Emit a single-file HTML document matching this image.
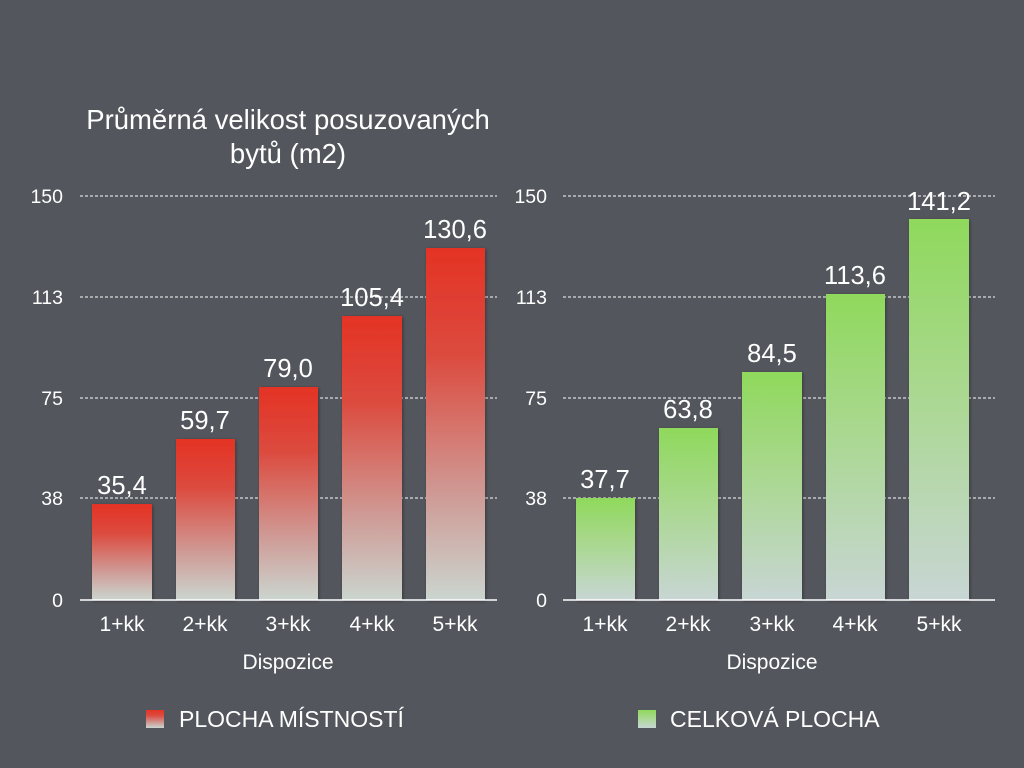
<!DOCTYPE html>
<html><head><meta charset="utf-8"><style>
html,body{margin:0;padding:0;background:#53565c;}
svg{display:block;font-family:"Liberation Sans",sans-serif;}
</style></head><body>
<svg width="1024" height="768" viewBox="0 0 1024 768">
<defs>
<linearGradient id="r" x1="0" y1="0" x2="0" y2="1">
<stop offset="0" stop-color="#e43325"/><stop offset="0.3" stop-color="#dc4a3e"/><stop offset="0.7" stop-color="#cf9a95"/><stop offset="1" stop-color="#cbd5cf"/></linearGradient>
<linearGradient id="g" x1="0" y1="0" x2="0" y2="1">
<stop offset="0" stop-color="#8fd95c"/><stop offset="0.4" stop-color="#a7d88a"/><stop offset="1" stop-color="#c8d6d4"/></linearGradient>
<filter id="s" x="-10%" y="-10%" width="130%" height="130%"><feDropShadow dx="1" dy="1" stdDeviation="1.5" flood-color="#000" flood-opacity="0.35"/></filter>
</defs>
<rect width="1024" height="768" fill="#53565c"/>
<g fill="#fff" font-size="27.5" text-anchor="middle">
<text x="288" y="129">Průměrná velikost posuzovaných</text>
<text x="288" y="163">bytů (m2)</text>
</g>
<g stroke="#fff" stroke-dasharray="3,2" stroke-width="1">
<line x1="80" y1="196" x2="497" y2="196"/><line x1="80" y1="297" x2="497" y2="297"/><line x1="80" y1="398" x2="497" y2="398"/><line x1="80" y1="498" x2="497" y2="498"/>
<line x1="563" y1="196" x2="995" y2="196"/><line x1="563" y1="297" x2="995" y2="297"/><line x1="563" y1="398" x2="995" y2="398"/><line x1="563" y1="498" x2="995" y2="498"/>
</g>
<g fill="#fff" font-size="19.5" text-anchor="end">
<text x="63" y="203">150</text><text x="63" y="304">113</text><text x="63" y="405">75</text><text x="63" y="505">38</text><text x="63" y="607">0</text>
<text x="547" y="203">150</text><text x="547" y="304">113</text><text x="547" y="405">75</text><text x="547" y="505">38</text><text x="547" y="607">0</text>
</g>
<g filter="url(#s)">
<rect x="92" y="504" width="60" height="96" fill="url(#r)"/>
<rect x="176" y="439" width="59" height="161" fill="url(#r)"/>
<rect x="259" y="387" width="59" height="213" fill="url(#r)"/>
<rect x="342" y="316" width="60" height="284" fill="url(#r)"/>
<rect x="426" y="248" width="59" height="352" fill="url(#r)"/>
<rect x="576" y="498" width="59" height="102" fill="url(#g)"/>
<rect x="659" y="428" width="59" height="172" fill="url(#g)"/>
<rect x="742" y="372" width="60" height="228" fill="url(#g)"/>
<rect x="826" y="294" width="59" height="306" fill="url(#g)"/>
<rect x="909" y="219" width="60" height="381" fill="url(#g)"/>
</g>
<line x1="80" y1="600" x2="497" y2="600" stroke="#fff" stroke-width="1.5"/>
<line x1="563" y1="600" x2="995" y2="600" stroke="#fff" stroke-width="1.5"/>
<g fill="#fff" font-size="25.5" text-anchor="middle">
<text x="122" y="494">35,4</text><text x="205" y="429">59,7</text><text x="288" y="377">79,0</text><text x="372" y="306">105,4</text><text x="455" y="238">130,6</text>
<text x="605" y="488">37,7</text><text x="688" y="418">63,8</text><text x="772" y="362">84,5</text><text x="855" y="284">113,6</text><text x="939" y="210">141,2</text>
</g>
<g fill="#fff" font-size="21" text-anchor="middle">
<text x="122" y="631">1+kk</text><text x="205" y="631">2+kk</text><text x="288" y="631">3+kk</text><text x="372" y="631">4+kk</text><text x="455" y="631">5+kk</text>
<text x="605" y="631">1+kk</text><text x="688" y="631">2+kk</text><text x="772" y="631">3+kk</text><text x="855" y="631">4+kk</text><text x="939" y="631">5+kk</text>
<text x="288" y="669">Dispozice</text><text x="772" y="669">Dispozice</text>
</g>
<rect x="146" y="710" width="18" height="18" fill="url(#r)"/>
<text x="179" y="727" fill="#fff" font-size="23">PLOCHA MÍSTNOSTÍ</text>
<rect x="638" y="710" width="18" height="18" fill="url(#g)"/>
<text x="670" y="727" fill="#fff" font-size="23">CELKOVÁ PLOCHA</text>
</svg>
</body></html>
